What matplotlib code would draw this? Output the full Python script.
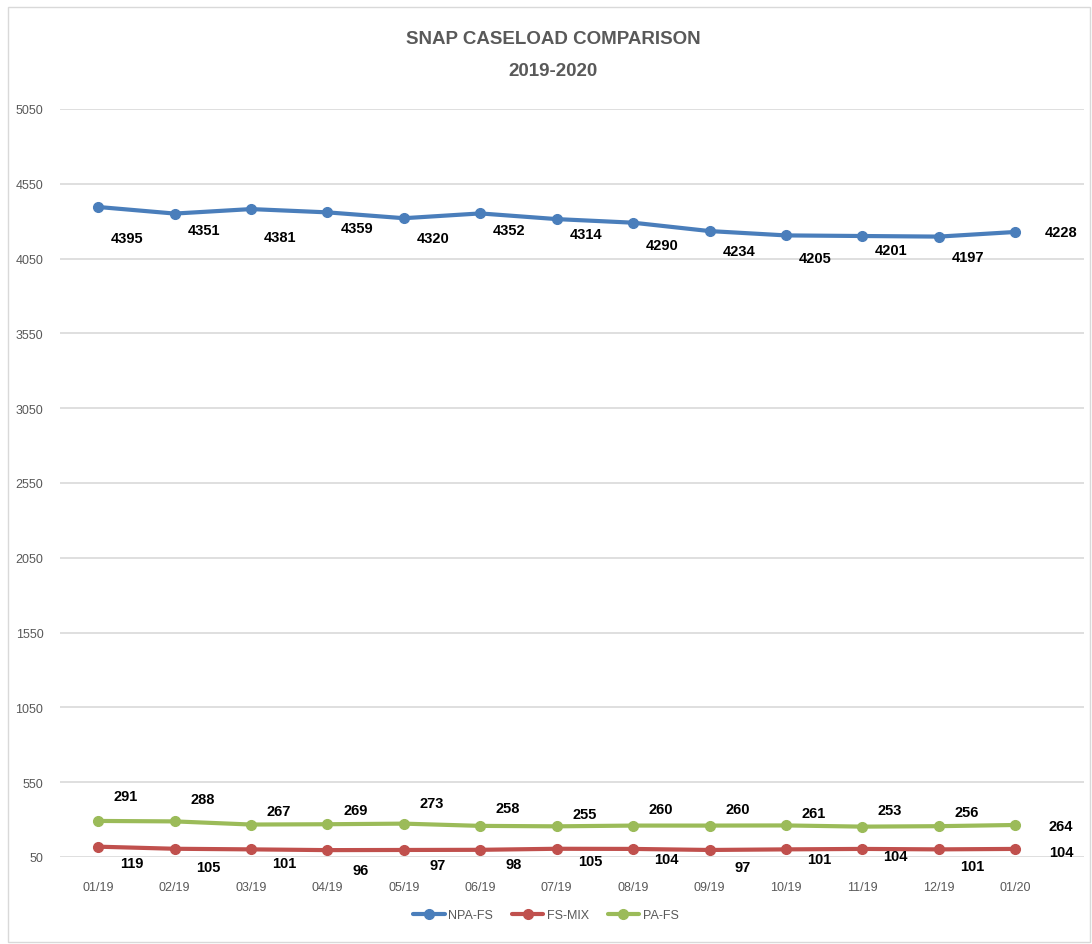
import matplotlib.pyplot as plt
from matplotlib.patches import Rectangle

plt.rcParams["font.family"] = ["Liberation Sans Narrow", "Liberation Sans", "DejaVu Sans"]

months = ["01/19", "02/19", "03/19", "04/19", "05/19", "06/19", "07/19",
          "08/19", "09/19", "10/19", "11/19", "12/19", "01/20"]
npa_fs = [4395, 4351, 4381, 4359, 4320, 4352, 4314, 4290, 4234, 4205, 4201, 4197, 4228]
fs_mix = [119, 105, 101, 96, 97, 98, 105, 104, 97, 101, 104, 101, 104]
pa_fs = [291, 288, 267, 269, 273, 258, 255, 260, 260, 261, 253, 256, 264]
y_ticks = list(range(50, 5051, 500))

# label offsets in points (dy) - the original chart places them a bit unevenly
npa_dy = [-22, -12, -20, -11, -14, -12, -11, -16, -14, -16, -10, -15]
pa_dy = [18, 16, 10, 10, 15, 13, 9, 12, 12, 9, 12, 10]
red_dy = [-12, -13, -10, -14, -11, -10, -9, -7, -12, -7, -5, -12]

blue, red, green = "#4A7EBB", "#C0504D", "#9BBB59"

fig = plt.figure(figsize=(10.92, 9.45), dpi=100)
fig.patches.append(Rectangle((8 / 1092, 2 / 945), 1 - 10 / 1092, 1 - 10 / 945,
                             transform=fig.transFigure, fill=False,
                             edgecolor="#D9D9D9", linewidth=1))
ax = fig.add_axes([60 / 1092, (945 - 858) / 945, (1084 - 60) / 1092, (858 - 110) / 945])

x = list(range(len(months)))
series = [("NPA-FS", npa_fs, blue), ("FS-MIX", fs_mix, red), ("PA-FS", pa_fs, green)]
for name, vals, col in series:
    ax.plot(x, vals, color=col, linewidth=3, marker="o", markersize=7, label=name,
            solid_capstyle="round")

lab = dict(fontsize=10.5, fontweight="bold", color="black", ha="center", va="center")
for i in range(len(months) - 1):
    ax.annotate(str(npa_fs[i]), (x[i], npa_fs[i]), xytext=(21, npa_dy[i]),
                textcoords="offset points", **lab)
    ax.annotate(str(pa_fs[i]), (x[i], pa_fs[i]), xytext=(20, pa_dy[i]),
                textcoords="offset points", **lab)
    ax.annotate(str(fs_mix[i]), (x[i], fs_mix[i]), xytext=(24, red_dy[i]),
                textcoords="offset points", **lab)
last = len(months) - 1
for vals, dy in [(npa_fs, 0), (pa_fs, -1), (fs_mix, -2)]:
    ax.annotate(str(vals[last]), (x[last], vals[last]), xytext=(33, dy),
                textcoords="offset points", **lab)

ax.set_xlim(-0.5, 12.9)
ax.set_ylim(50, 5050)
ax.set_yticks(y_ticks)
ax.set_xticks(x)
ax.set_xticklabels(months)
ax.tick_params(axis="both", length=0, colors="#595959", labelsize=9)
ax.tick_params(axis="y", pad=12)
ax.tick_params(axis="x", pad=17)
ax.grid(axis="y", color="#D9D9D9", linewidth=1.2)
ax.set_axisbelow(True)
for s in ax.spines.values():
    s.set_visible(False)

fig.text(553 / 1092, 1 - 40 / 945, "SNAP CASELOAD COMPARISON", ha="center", va="center",
         fontsize=13.5, color="#595959", fontweight="bold")
fig.text(553 / 1092, 1 - 72 / 945, "2019-2020", ha="center", va="center",
         fontsize=13.5, color="#595959", fontweight="bold")

fig.legend(loc="center", bbox_to_anchor=(546 / 1092, 1 - 916 / 945), ncol=3, frameon=False,
           fontsize=9, labelcolor="#595959", handlelength=2.5, columnspacing=1.5,
           handletextpad=0.3)

fig.savefig("out.png", dpi=100)
